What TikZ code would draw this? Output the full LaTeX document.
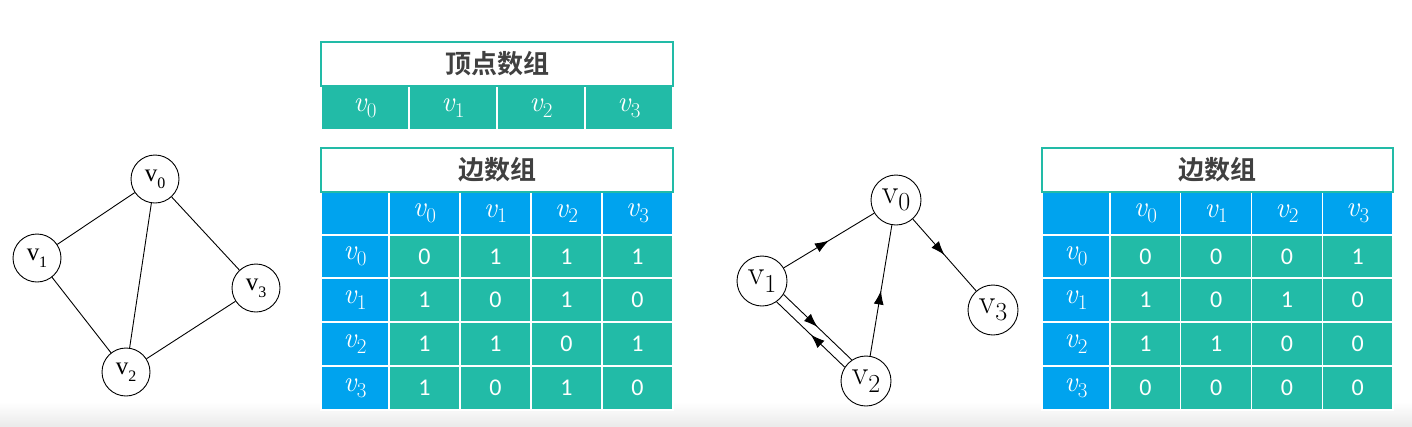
\documentclass[tikz,border=0pt]{standalone}
\usepackage{fontspec}
\setsansfont{Carlito}
\newfontfamily\cjkb{Noto Sans CJK SC Bold}
\newfontfamily\tms{Liberation Serif}
\usetikzlibrary{arrows.meta,decorations.markings}
\definecolor{eteal}{HTML}{22BBA7}
\definecolor{eblue}{HTML}{00A3EE}
\definecolor{ttext}{HTML}{404040}
\newcommand\mycell[7]{\node[cellbox,fill=#6,minimum width={#4-#2},minimum height={#5-#3}] (#1) at ({(#2+#4)/2},{(#3+#5)/2}) {#7};}
\newcommand\lv[1]{{\tms\fontsize{25}{25}\selectfont v\raisebox{-0.28em}{\fontsize{16}{16}\selectfont #1}}}
\newcommand\rv[1]{{\fontsize{34}{34}\selectfont v\raisebox{-0.22em}{\fontsize{26}{26}\selectfont #1}}}
\newcommand\mv[1]{{\rmfamily\fontsize{29}{29}\selectfont\itshape\addfontfeature{FakeBold=0.8}v\kern0.5pt\raisebox{-0.2em}{\upshape\fontsize{21}{21}\selectfont\addfontfeature{FakeBold=0.8}#1}}}
\tikzset{
  cellbox/.style={draw=white,line width=1.3pt,inner sep=0pt,text=white,font=\sffamily\fontsize{24}{24}\selectfont},
  titlebox/.style={draw=eteal,line width=1.3pt,inner sep=0pt,text=ttext,font=\cjkb\fontsize{26}{26}\selectfont},
  gnode/.style={draw=black,circle,line width=0.9pt,minimum size=48pt,inner sep=0pt,fill=white},
  rnode/.style={draw=black,circle,line width=0.9pt,minimum size=50pt,inner sep=0pt,fill=white},
  edge/.style={draw=black,line width=0.9pt},
  midarrow/.style={edge,postaction={decorate},decoration={markings,mark=at position 0.5 with {\arrow{Latex[length=14pt,width=10pt]}}}}
}
\begin{document}
\begin{tikzpicture}[x=1pt,y=-1pt]
\useasboundingbox (0,0) rectangle (1412,426);
\shade[top color=white,bottom color=black!8] (0,402) rectangle (1412,426);

% ---------- left graph ----------
\node[gnode] (a0) at (155,179) {\lv{0}};
\node[gnode] (a1) at (37,258) {\lv{1}};
\node[gnode] (a3) at (256,288) {\lv{3}};
\node[gnode] (a2) at (126,372) {\lv{2}};
\draw[edge] (a0) -- (a1);
\draw[edge] (a0) -- (a2);
\draw[edge] (a0) -- (a3);
\draw[edge] (a1) -- (a2);
\draw[edge] (a2) -- (a3);

% ---------- vertex array ----------
\foreach \j in {0,1,2,3}{
  \pgfmathsetmacro\xa{321+88*\j}
  \pgfmathsetmacro\xb{321+88*(\j+1)}
  \mycell{vc\j}{\xa}{86}{\xb}{130}{eteal}{\mv{\j}}
}
\node[titlebox,minimum width=352,minimum height=44] (vt) at (497,64) {顶点数组};

% ---------- left edge array ----------
\mycell{Lc}{321}{192}{389}{235}{eblue}{}
\foreach \j in {0,1,2,3}{
  \pgfmathsetmacro\xa{389+71*\j}
  \pgfmathsetmacro\xb{389+71*(\j+1)}
  \mycell{Lh\j}{\xa}{192}{\xb}{235}{eblue}{\mv{\j}}
}
\foreach \i/\ya/\yb/\vals in {0/235/278/{0,1,1,1},1/278/322/{1,0,1,0},2/322/366/{1,1,0,1},3/366/410/{1,0,1,0}}{
  \mycell{Lr\i}{321}{\ya}{389}{\yb}{eblue}{\mv{\i}}
  \foreach \v [count=\k from 0] in \vals {
    \pgfmathsetmacro\xa{389+71*\k}
    \pgfmathsetmacro\xb{389+71*(\k+1)}
    \mycell{L\i\k}{\xa}{\ya}{\xb}{\yb}{eteal}{\v}
  }
}
\node[titlebox,minimum width=352,minimum height=44] (lt) at (497,170) {边数组};

% ---------- right graph ----------
\node[rnode] (b0) at (896,200) {\rv{0}};
\node[rnode] (b1) at (762,281) {\rv{1}};
\node[rnode] (b3) at (993,310) {\rv{3}};
\node[rnode] (b2) at (866,381) {\rv{2}};
\draw[midarrow] (b1) -- (b0);
\draw[midarrow] (b2) -- (b0);
\draw[midarrow] (b0) -- (b3);
\draw[midarrow] (b1.-32.5) -- (b2.124.5);
\draw[midarrow] (b2.147.5) -- (b1.-55.5);

% ---------- right edge array ----------
\mycell{Rc}{1042}{192}{1110}{235}{eblue}{}
\foreach \j in {0,1,2,3}{
  \pgfmathsetmacro\xa{1110+70.75*\j}
  \pgfmathsetmacro\xb{1110+70.75*(\j+1)}
  \mycell{Rh\j}{\xa}{192}{\xb}{235}{eblue}{\mv{\j}}
}
\foreach \i/\ya/\yb/\vals in {0/235/278/{0,0,0,1},1/278/322/{1,0,1,0},2/322/366/{1,1,0,0},3/366/410/{0,0,0,0}}{
  \mycell{Rr\i}{1042}{\ya}{1110}{\yb}{eblue}{\mv{\i}}
  \foreach \v [count=\k from 0] in \vals {
    \pgfmathsetmacro\xa{1110+70.75*\k}
    \pgfmathsetmacro\xb{1110+70.75*(\k+1)}
    \mycell{R\i\k}{\xa}{\ya}{\xb}{\yb}{eteal}{\v}
  }
}
\node[titlebox,minimum width=351,minimum height=44] (rt) at (1217.5,170) {边数组};
\end{tikzpicture}
\end{document}
